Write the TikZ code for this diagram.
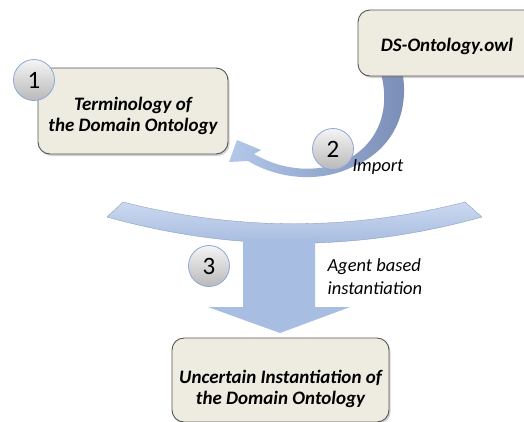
\documentclass[tikz,border=0pt]{standalone}
\usepackage{fontspec}
\setmainfont{Carlito}
\usetikzlibrary{shadows}
\definecolor{boxfill}{RGB}{238,236,225}
\definecolor{boxline}{RGB}{85,85,85}
\definecolor{bandtop}{RGB}{203,217,240}
\definecolor{bandbot}{RGB}{160,182,220}
\definecolor{shaftside}{RGB}{168,189,226}
\definecolor{shaftmid}{RGB}{200,214,239}
\definecolor{arrlight}{RGB}{180,200,234}
\definecolor{arrdark}{RGB}{120,140,182}
\definecolor{circline}{RGB}{140,168,218}
\tikzset{
  stagebox/.style={draw=boxline, line width=0.9pt, fill=boxfill, rounded corners=12pt,
    drop shadow={shadow xshift=1.5pt, shadow yshift=-2pt, opacity=0.35}},
  numcirc/.style={circle, draw=circline, line width=0.8pt, top color=gray!8, bottom color=gray!55,
    minimum size=41pt, inner sep=0pt, font=\fontsize{25}{25}\selectfont},
  boxtext/.style={align=center, font=\fontsize{19}{20.5}\selectfont\bfseries\itshape},
  plaintext/.style={font=\fontsize{18.5}{23}\selectfont\itshape}
}
\begin{document}
\begin{tikzpicture}[x=1pt,y=-1pt]
\clip (0,0) rectangle (524,421);
\fill[white] (0,0) rectangle (524,421);

% big curved band
\shade[top color=bandtop, bottom color=bandbot, draw=bandbot!80!black, line width=0.3pt]
  (123,202) .. controls (237,231) and (351,231) .. (465,202)
  -- (482,217) .. controls (357,252) and (232,252) .. (107,217) -- cycle;
% shaft with arrow head
\shade[left color=shaftside, middle color=shaftmid, right color=shaftside]
  (243,238) -- (315,238) -- (315,307) -- (350,307) -- (280,333) -- (208,307) -- (243,307) -- cycle;

% curved import arrow
\shade[left color=arrlight, right color=arrdark]
  (402,70) .. controls (410,110) and (395,150) .. (350,168)
  .. controls (320,182) and (280,180) .. (248,161)
  -- (229,162) -- (237,140) -- (261,150) -- (254,154)
  .. controls (285,172) and (318,172) .. (342,162)
  .. controls (378,146) and (392,110) .. (380,70) -- cycle;

% boxes
\node[stagebox, minimum width=190pt, minimum height=86pt] (box1) at (133,111) {};
\node[boxtext] (t1) at (133,116) {Terminology of\\the Domain Ontology};
\node[stagebox, minimum width=178pt, minimum height=66pt] (box2) at (447,43) {};
\node[boxtext] (t2) at (447,46) {DS-Ontology.owl};
\node[stagebox, minimum width=217pt, minimum height=84pt] (box3) at (280.5,380) {};
\node[boxtext] (t3) at (280.5,389) {Uncertain Instantiation of\\the Domain Ontology};

% numbered circles
\node[numcirc] (c1) at (34,80) {1};
\node[numcirc] (c2) at (333,149) {2};
\node[numcirc] (c3) at (209,266) {3};

% labels
\node[plaintext] (imp) at (378,167) {Import};
\node[plaintext, align=left, anchor=west] (agent) at (324,277) {Agent based\\instantiation};
\end{tikzpicture}
\end{document}
